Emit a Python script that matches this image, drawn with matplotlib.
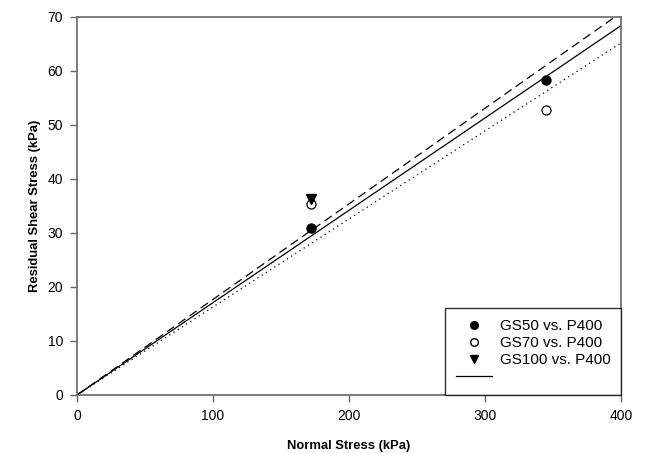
import matplotlib
matplotlib.use("Agg")
import matplotlib.pyplot as plt
import numpy as np
from matplotlib.lines import Line2D

plt.rcParams['font.family'] = ['Liberation Sans', 'DejaVu Sans']

# Measured data
normal_stress = [172, 345]
gs50 = [31.0, 58.3]
gs70 = [35.3, 52.7]
gs100_x = [172]
gs100 = [36.3]

# Fitted failure envelopes through the origin (slope = tan(phi_r))
slope_all = 0.171
slope_upper = 0.177
slope_lower = 0.163
x_fit = np.array([0, 400])

fig = plt.figure(figsize=(6.45, 4.54), dpi=100)
ax = fig.add_axes([0.1194, 0.13, 0.8434, 0.8326])

ax.plot(x_fit, slope_upper * x_fit, color='black', lw=0.9, ls=(0, (7, 4)))
ax.plot(x_fit, slope_lower * x_fit, color='black', lw=0.9, ls=(0, (1, 3)))
ax.plot(x_fit, slope_all * x_fit, color='black', lw=0.9, ls='-')

ax.plot(normal_stress, gs50, 'o', color='black', ms=6.5, ls='none')
ax.plot(normal_stress, gs70, 'o', mfc='white', mec='black', mew=0.9, ms=6.5, ls='none')
ax.plot(gs100_x, gs100, 'v', color='black', ms=6.5, ls='none')

ax.set_xlim(0, 400)
ax.set_ylim(0, 70)
ax.set_xticks([0, 100, 200, 300, 400])
ax.set_yticks(range(0, 71, 10))
ax.tick_params(direction='out', length=5, width=1, color='#666666', labelsize=10, pad=5)
for s in ax.spines.values():
    s.set_color('#666666')
    s.set_linewidth(1.2)

ax.set_xlabel('Normal Stress (kPa)', fontsize=9.4, fontweight='bold', labelpad=12)
ax.set_ylabel('Residual Shear Stress (kPa)', fontsize=9.4, fontweight='bold', labelpad=5)

handles = [
    Line2D([], [], marker='o', color='black', ls='none', ms=5.5),
    Line2D([], [], marker='o', mfc='white', mec='black', ls='none', ms=5.5),
    Line2D([], [], marker='v', color='black', ls='none', ms=5.5),
    Line2D([], [], color='black', lw=0.9),
]
labels = ['GS50 vs. P400', 'GS70 vs. P400', 'GS100 vs. P400', '']
leg = ax.legend(handles, labels, loc='lower right', borderaxespad=0, fontsize=11,
                frameon=True, fancybox=False, edgecolor='black', handlelength=2.35,
                borderpad=0.7, labelspacing=0.2, handletextpad=0.5)
leg.get_frame().set_linewidth(1.0)

fig.savefig('out.png', dpi=100)
